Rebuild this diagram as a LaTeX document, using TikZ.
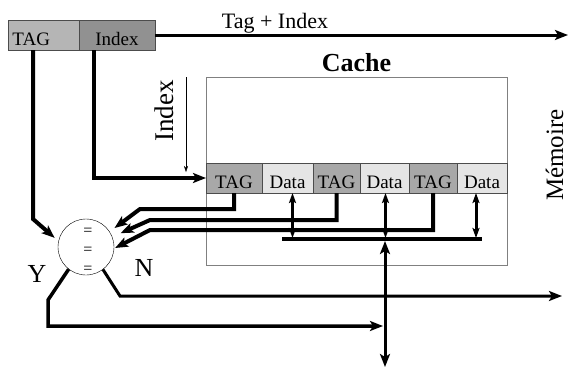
\documentclass[tikz,border=0pt]{standalone}
\usepackage{fontspec}
\setmainfont{Liberation Serif}
\usepackage{tikz}
\usetikzlibrary{positioning}
\usetikzlibrary{calc}
\usetikzlibrary{arrows.meta}
\definecolor{regtagc}{gray}{0.71}
\definecolor{regidxc}{gray}{0.57}
\definecolor{tagc}{gray}{0.66}
\definecolor{datac}{gray}{0.90}

\begin{document}
\begin{tikzpicture}[
x=1pt, y=-1pt,
cell/.style={rectangle, draw=black!70, inner sep=0, outer sep=0, minimum height=30pt, font=\fontsize{19}{19}\selectfont, text height=20pt, text depth=0pt},
wire/.style={line width=4pt},
dataline/.style={line width=2.5pt, {Stealth[length=10pt, width=7pt, inset=2pt]}-{Stealth[length=10pt, width=7pt, inset=2pt]}},
eqsign/.style={inner sep=0, font=\fontsize{16}{16}\selectfont},
bigtext/.style={inner sep=0, font=\fontsize{26}{26}\selectfont},
>={Stealth[length=13pt, width=10pt, inset=3pt]}
]
\useasboundingbox (0,0) rectangle (571,368);

% adresse
\node [cell, fill=regtagc, minimum width=71pt, text width=62pt, align=left, anchor=north west] (regtag) at (8,20) {TAG};
\node [cell, fill=regidxc, minimum width=76pt, right=0pt of regtag] (regidx) {Index};
\coordinate (memtag) at (568,35);
\draw [line width=3pt, ->] (regidx.east) -- (memtag);
\node [anchor=base, inner sep=0, font=\fontsize{22}{22}\selectfont] (tilbl) at (275,28) {Tag + Index};

% cache
\node [draw=black!50, minimum width=301pt, minimum height=188pt, inner sep=0, outer sep=0, anchor=north west] (cache) at (206,77) {};
\node [above=4pt of cache, inner sep=1pt, font=\bfseries\fontsize{26}{26}\selectfont] (cachelbl) {Cache};
\node [cell, fill=tagc, minimum width=56pt, anchor=north west] (tag1) at (206,163) {TAG};
\node [cell, fill=datac, minimum width=51pt, right=0pt of tag1] (data1) {Data};
\node [cell, fill=tagc, minimum width=47pt, right=0pt of data1] (tag2) {TAG};
\node [cell, fill=datac, minimum width=49pt, right=0pt of tag2] (data2) {Data};
\node [cell, fill=tagc, minimum width=48pt, right=0pt of data2] (tag3) {TAG};
\node [cell, fill=datac, minimum width=50pt, right=0pt of tag3] (data3) {Data};

% index
\coordinate (idxtop) at (186,77);
\coordinate (idxbot) at (186,172);
\draw [thin, -{Stealth[length=6pt, width=4pt]}] (idxtop) -- (idxbot);
\node [bigtext, rotate=90, anchor=base, font=\fontsize{27}{27}\selectfont] (idxlbl) at (173,111) {Index};
\draw [wire, ->] ($(regidx.south west)+(15,0)$) |- (tag1.west);

% comparateur
\node [circle, draw, thin, minimum size=56pt, inner sep=0] (cmp) at (86,247) {};
\foreach \y [count=\i] in {232,251,270}
  \node [eqsign] (eq\i) at (88,\y) {=};
\node [bigtext] (ylbl) at (37,274) {Y};
\node [bigtext] (nlbl) at (144,268) {N};

\draw [wire, ->, shorten >=5pt] ($(regtag.south west)+(25,0)$) -- ++(0,169) -- (cmp.168);
\draw [wire, ->, shorten >=6pt] (tag1.south) |- (140,209) -- (cmp.33);
\draw [wire, ->, shorten >=9pt] (tag2.south) |- (150,220) -- (cmp.21);
\draw [wire, ->, shorten >=1pt] (tag3.south) |- (150,230) -- (cmp.-3);

% bus
\coordinate (busl) at (282,239);
\coordinate (busr) at (482,239);
\coordinate (busmid) at (385,241);
\coordinate (membot) at (385,367);
\draw [wire] (busl) -- (busr);
\draw [dataline] ($(data1.south)+(5,0)$) -- ++(0,45);
\draw [dataline] ($(data2.south)+(1,0)$) -- ++(0,45);
\draw [dataline, line width=3pt] ($(data3.south)+(-6,0)$) -- ++(0,45);
\draw [line width=3pt, <->] (busmid) -- (membot);

% sorties
\coordinate (nout) at (562,296);
\coordinate (yout) at (383,326);
\draw [line width=3pt, ->] (cmp.-53) -- (120,296) -- (nout);
\draw [line width=3.5pt, ->] (cmp.-128) -- (48,300) -- (48,326) -- (yout);

\node [bigtext, rotate=90, anchor=base, font=\fontsize{25}{25}\selectfont] (memlbl) at (563,155) {Mémoire};
\end{tikzpicture}
\end{document}
